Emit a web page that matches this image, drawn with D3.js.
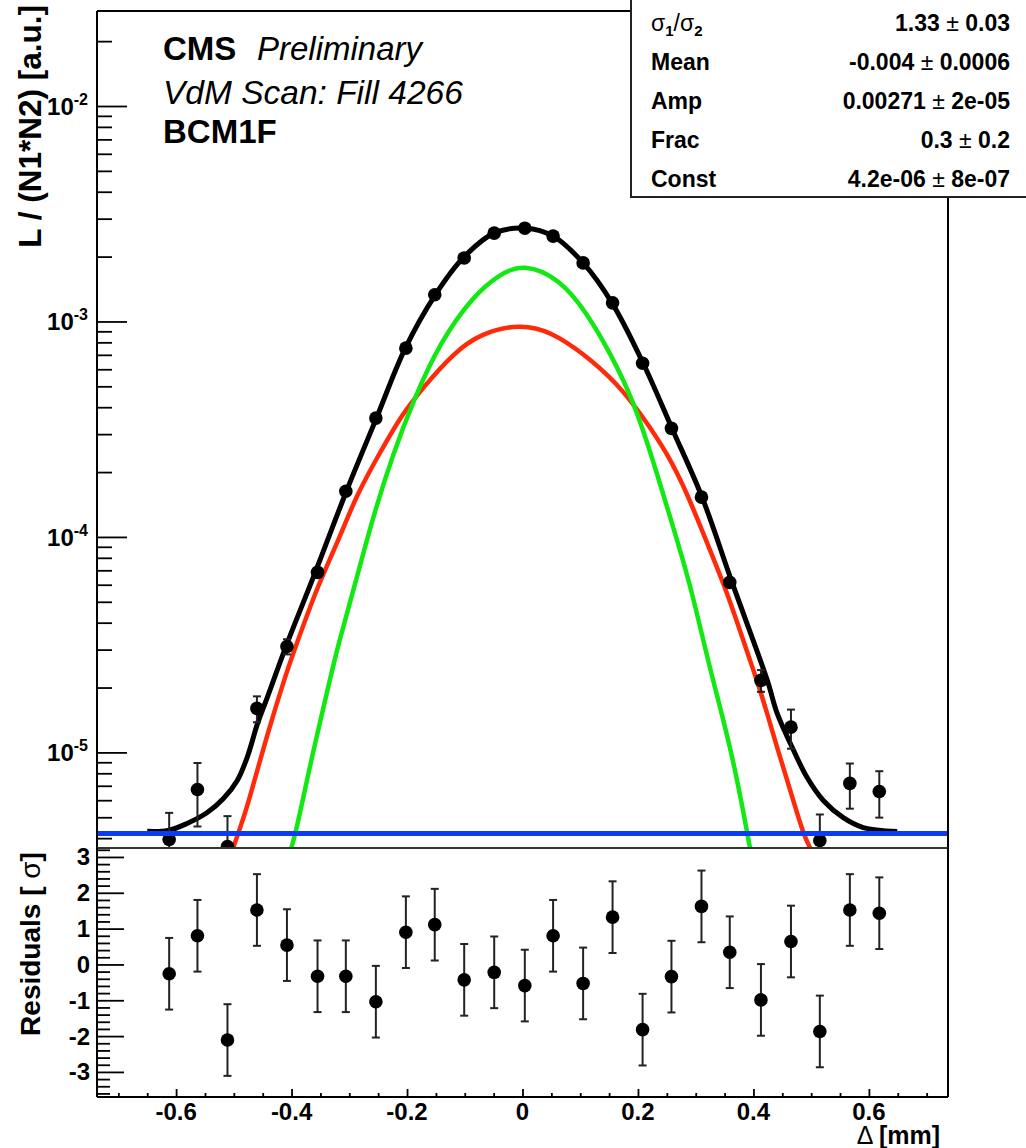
<!DOCTYPE html>
<html>
<head>
<meta charset="utf-8">
<script src="https://cdn.jsdelivr.net/npm/d3@7"></script>
<style>
  html, body { margin: 0; padding: 0; background: #fff; }
  svg { display: block; }
  text { font-family: "Liberation Sans", Arial, Helvetica, sans-serif; }
</style>
</head>
<body>
<script>
// ---------------- data ----------------
const pointX = [-0.612,-0.563,-0.511,-0.460,-0.408,-0.355,-0.306,-0.254,-0.202,-0.152,-0.101,-0.049,0.004,0.053,0.105,0.156,0.208,0.258,0.310,0.359,0.413,0.465,0.515,0.567,0.618];
const pointY = [3.94e-6,6.73e-6,3.66e-6,1.60e-5,3.10e-5,6.85e-5,1.63e-4,3.56e-4,7.52e-4,1.33e-3,1.97e-3,2.57e-3,2.71e-3,2.49e-3,1.87e-3,1.22e-3,6.40e-4,3.19e-4,1.53e-4,6.15e-5,2.16e-5,1.31e-5,3.90e-6,7.18e-6,6.58e-6];
const pointErr = [1.3e-6,2.2e-6,1.4e-6,2.2e-6,2.5e-6,3e-6,4e-6,6e-6,8e-6,1.1e-5,1.3e-5,1.5e-5,1.5e-5,1.5e-5,1.3e-5,1.1e-5,8e-6,6e-6,4e-6,3e-6,2.5e-6,2.7e-6,1.25e-6,1.7e-6,1.6e-6];
const residual = [-0.26,0.80,-2.11,1.52,0.54,-0.33,-0.33,-1.04,0.90,1.11,-0.43,-0.22,-0.59,0.80,-0.53,1.32,-1.82,-0.34,1.62,0.34,-0.99,0.64,-1.87,1.52,1.43];
const residualErr = [1,1,1,1,1,1,1,1,1,1,1,1,1,1,1,1,1,1,1,1,1,1,1,1,1];

// total fit (black)
const totalX = [-0.650,-0.614,-0.581,-0.546,-0.518,-0.494,-0.477,-0.459,-0.442,-0.409,-0.359,-0.305,-0.253,-0.203,-0.151,-0.103,-0.049,0.005,0.053,0.105,0.155,0.209,0.259,0.311,0.363,0.424,0.441,0.464,0.493,0.521,0.555,0.590,0.649];
const totalY = [4.30e-6,4.34e-6,4.68e-6,5.26e-6,6.11e-6,7.41e-6,9.46e-6,1.36e-5,1.80e-5,3.14e-5,6.85e-5,1.63e-4,3.56e-4,7.52e-4,1.33e-3,1.97e-3,2.57e-3,2.71e-3,2.49e-3,1.87e-3,1.22e-3,6.40e-4,3.19e-4,1.53e-4,6.15e-5,2.16e-5,1.52e-5,1.10e-5,7.64e-6,5.98e-6,4.99e-6,4.48e-6,4.30e-6];
// narrow gaussian (green)
const narrowX = [-0.410,-0.394,-0.368,-0.333,-0.321,-0.286,-0.259,-0.224,-0.189,-0.143,-0.085,-0.039,0.001,0.065,0.112,0.152,0.192,0.226,0.261,0.290,0.316,0.330,0.365,0.394];
const narrowY = [3.0e-6,4.0e-6,8.8e-6,2.2e-5,3.04e-5,6.6e-5,1.24e-4,2.44e-4,4.30e-4,8.0e-4,1.32e-3,1.66e-3,1.86e-3,1.58e-3,1.09e-3,7.13e-4,4.31e-4,2.27e-4,1.11e-4,6.08e-5,3.07e-5,2.16e-5,9.46e-6,3.61e-6];
// wide gaussian (red)
const wideX = [-0.501,-0.489,-0.477,-0.442,-0.408,-0.394,-0.356,-0.321,-0.286,-0.246,-0.212,-0.172,-0.120,-0.073,-0.004,0.048,0.105,0.164,0.209,0.251,0.285,0.320,0.355,0.389,0.412,0.441,0.464,0.486,0.498];
const wideY = [3.61e-6,4.48e-6,5.55e-6,1.22e-5,2.39e-5,3.04e-5,5.83e-5,9.33e-5,1.60e-4,2.48e-4,3.60e-4,4.95e-4,7.10e-4,8.80e-4,9.75e-4,9.0e-4,7.13e-4,5.17e-4,3.60e-4,2.44e-4,1.60e-4,9.33e-5,5.5e-5,2.92e-5,1.95e-5,1.05e-5,6.65e-6,4.20e-6,3.61e-6];
// constant (blue)
const constX = [-0.737, 0.737];
const constY = [4.2e-6, 4.2e-6];

const yMajorTicks = [1e-5, 1e-4, 1e-3, 1e-2];
const yMajorExp = ["-5", "-4", "-3", "-2"];
const resMajorTicks = [-3, -2, -1, 0, 1, 2, 3];
const xMajorTicks = [-0.6, -0.4, -0.2, 0, 0.2, 0.4, 0.6];
const xTickLabels = ["-0.6", "-0.4", "-0.2", "0", "0.2", "0.4", "0.6"];

const statNames = ["σ1/σ2", "Mean", "Amp", "Frac", "Const"];
const statValues = ["1.33", "-0.004", "0.00271", "0.3", "4.2e-06"];
const statErrors = ["0.03", "0.0006", "2e-05", "0.2", "8e-07"];

// ---------------- layout ----------------
const W = 1026, H = 1148;
const L = 97, R = 948, T = 11, MB = 848, RB = 1097;

const svg = d3.select("body").append("svg").attr("width", W).attr("height", H);
svg.append("rect").attr("width", W).attr("height", H).attr("fill", "#fff");

const x = d3.scaleLinear().domain([-0.737, 0.737]).range([L, R]);
const y = d3.scaleLog().domain([3.6e-6, 2.76e-2]).range([MB, T]);
const yr = d3.scaleLinear().domain([-3.7, 3.25]).range([RB, MB]);

const defs = svg.append("defs");
defs.append("clipPath").attr("id", "clipMain").append("rect")
  .attr("x", L).attr("y", T).attr("width", R - L).attr("height", MB - T);
defs.append("clipPath").attr("id", "clipRes").append("rect")
  .attr("x", L).attr("y", MB).attr("width", R - L).attr("height", RB - MB);

// ---------------- main panel ----------------
const main = svg.append("g").attr("clip-path", "url(#clipMain)");
const lineTotal = d3.line().x(d => x(d[0])).y(d => y(d[1])).curve(d3.curveCatmullRom.alpha(0.5));
const lineComp = d3.line().x(d => x(d[0])).y(d => y(d[1])).curve(d3.curveBasis);
const zip = (a, b) => a.map((v, i) => [v, b[i]]);

main.append("path").datum(zip(wideX, wideY)).attr("d", lineComp)
  .attr("fill", "none").attr("stroke", "#ff2a0a").attr("stroke-width", 4.5).attr("stroke-linejoin", "round");
main.append("path").datum(zip(narrowX, narrowY)).attr("d", lineComp)
  .attr("fill", "none").attr("stroke", "#12e812").attr("stroke-width", 4.5).attr("stroke-linejoin", "round");
main.append("path").datum(zip(totalX, totalY)).attr("d", lineTotal)
  .attr("fill", "none").attr("stroke", "#000").attr("stroke-width", 5).attr("stroke-linejoin", "round");

const pts = main.append("g");
pointX.forEach((px, i) => {
  const cx = x(px);
  const y1 = y(pointY[i] + pointErr[i]);
  const y0 = y(Math.max(pointY[i] - pointErr[i], 1e-9));
  pts.append("line").attr("x1", cx).attr("x2", cx).attr("y1", y1).attr("y2", y0)
    .attr("stroke", "#222").attr("stroke-width", 2);
  pts.append("line").attr("x1", cx - 4).attr("x2", cx + 4).attr("y1", y1).attr("y2", y1)
    .attr("stroke", "#222").attr("stroke-width", 2);
  pts.append("line").attr("x1", cx - 4).attr("x2", cx + 4).attr("y1", y0).attr("y2", y0)
    .attr("stroke", "#222").attr("stroke-width", 2);
  pts.append("circle").attr("cx", cx).attr("cy", y(pointY[i])).attr("r", 6.8).attr("fill", "#000");
});

main.append("path").datum(zip(constX, constY)).attr("d", lineTotal)
  .attr("fill", "none").attr("stroke", "#0a3cf5").attr("stroke-width", 5);

// main y axis (ticks inward)
const minorY = [];
for (let e = -6; e <= -2; e++) for (let k = 2; k <= 9; k++) {
  const v = k * Math.pow(10, e);
  if (v >= 3.6e-6 && v <= 2.76e-2) minorY.push(v);
}
svg.append("g").attr("transform", `translate(${L},0)`)
  .call(d3.axisRight(y).tickValues(minorY).tickSize(15).tickFormat(""))
  .call(g => g.select(".domain").remove())
  .selectAll("line").attr("stroke", "#000").attr("stroke-width", 1.8);
svg.append("g").attr("transform", `translate(${L},0)`)
  .call(d3.axisRight(y).tickValues(yMajorTicks).tickSize(30).tickFormat(""))
  .call(g => g.select(".domain").remove())
  .selectAll("line").attr("stroke", "#000").attr("stroke-width", 1.8);

yMajorTicks.forEach((v, i) => {
  const t = svg.append("text").attr("x", 88).attr("y", y(v) + 9)
    .attr("text-anchor", "end").attr("font-weight", "bold").attr("font-size", 24);
  t.append("tspan").text("10");
  t.append("tspan").attr("dy", -10).attr("font-size", 16).text(yMajorExp[i]);
});

// frame of main panel
svg.append("line").attr("x1", L).attr("x2", L).attr("y1", T).attr("y2", MB).attr("stroke", "#000").attr("stroke-width", 2);
svg.append("line").attr("x1", L).attr("x2", R).attr("y1", T).attr("y2", T).attr("stroke", "#000").attr("stroke-width", 2);
svg.append("line").attr("x1", R).attr("x2", R).attr("y1", T).attr("y2", MB).attr("stroke", "#000").attr("stroke-width", 2);

// ---------------- residual panel ----------------
const res = svg.append("g").attr("clip-path", "url(#clipRes)");
pointX.forEach((px, i) => {
  const cx = x(px);
  const y1 = yr(residual[i] + residualErr[i]);
  const y0 = yr(residual[i] - residualErr[i]);
  res.append("line").attr("x1", cx).attr("x2", cx).attr("y1", y1).attr("y2", y0)
    .attr("stroke", "#222").attr("stroke-width", 2);
  res.append("line").attr("x1", cx - 4).attr("x2", cx + 4).attr("y1", y1).attr("y2", y1)
    .attr("stroke", "#222").attr("stroke-width", 2);
  res.append("line").attr("x1", cx - 4).attr("x2", cx + 4).attr("y1", y0).attr("y2", y0)
    .attr("stroke", "#222").attr("stroke-width", 2);
  res.append("circle").attr("cx", cx).attr("cy", yr(residual[i])).attr("r", 6.8).attr("fill", "#000");
});

const resMinor = d3.range(-36, 33, 2).map(v => v / 10).filter(v => Math.abs(v - Math.round(v)) > 1e-6);
svg.append("g").attr("transform", `translate(${L},0)`)
  .call(d3.axisRight(yr).tickValues(resMinor).tickSize(13).tickFormat(""))
  .call(g => g.select(".domain").remove())
  .selectAll("line").attr("stroke", "#000").attr("stroke-width", 1.8);
svg.append("g").attr("transform", `translate(${L},0)`)
  .call(d3.axisRight(yr).tickValues(resMajorTicks).tickSize(27).tickFormat(""))
  .call(g => g.select(".domain").remove())
  .selectAll("line").attr("stroke", "#000").attr("stroke-width", 1.8);
resMajorTicks.forEach(v => {
  svg.append("text").attr("x", 90).attr("y", yr(v) + 8.5).attr("text-anchor", "end")
    .attr("font-weight", "bold").attr("font-size", 24).text(String(v));
});

const xMinor = d3.range(-14, 15).map(v => v * 0.05).filter(v => Math.abs(v / 0.2 - Math.round(v / 0.2)) > 1e-6);
svg.append("g").attr("transform", `translate(0,${RB})`)
  .call(d3.axisTop(x).tickValues(xMinor).tickSize(4).tickFormat(""))
  .call(g => g.select(".domain").remove())
  .selectAll("line").attr("stroke", "#000").attr("stroke-width", 1.8);
svg.append("g").attr("transform", `translate(0,${RB})`)
  .call(d3.axisTop(x).tickValues(xMajorTicks).tickSize(8).tickFormat(""))
  .call(g => g.select(".domain").remove())
  .selectAll("line").attr("stroke", "#000").attr("stroke-width", 1.8);
xMajorTicks.forEach((v, i) => {
  svg.append("text").attr("x", x(v)).attr("y", 1120).attr("text-anchor", "middle")
    .attr("font-weight", "bold").attr("font-size", 24).text(xTickLabels[i]);
});

// residual frame
svg.append("line").attr("x1", L).attr("x2", R).attr("y1", MB).attr("y2", MB).attr("stroke", "#333").attr("stroke-width", 2);
svg.append("line").attr("x1", L).attr("x2", L).attr("y1", MB).attr("y2", RB).attr("stroke", "#000").attr("stroke-width", 2);
svg.append("line").attr("x1", R).attr("x2", R).attr("y1", MB).attr("y2", RB).attr("stroke", "#000").attr("stroke-width", 2);
svg.append("line").attr("x1", L).attr("x2", R).attr("y1", RB).attr("y2", RB).attr("stroke", "#000").attr("stroke-width", 2);

// ---------------- titles ----------------
const xt = svg.append("text").attr("x", 940).attr("y", 1144).attr("text-anchor", "end").attr("font-size", 25);
xt.append("tspan").text("Δ ");
xt.append("tspan").attr("font-weight", "bold").text("[mm]");

svg.append("text").attr("transform", "translate(41,5) rotate(-90)").attr("text-anchor", "end")
  .attr("font-weight", "bold").attr("font-size", 31.5).text("L / (N1*N2) [a.u.]");

const rt = svg.append("text").attr("transform", "translate(40,944) rotate(-90)").attr("text-anchor", "middle")
  .attr("font-size", 28);
rt.append("tspan").attr("font-weight", "bold").text("Residuals [ ");
rt.append("tspan").text("σ");
rt.append("tspan").attr("font-weight", "bold").text("]");

// CMS labels
svg.append("text").attr("x", 163).attr("y", 60).attr("font-weight", "bold").attr("font-size", 33).text("CMS");
svg.append("text").attr("x", 257).attr("y", 60).attr("font-style", "italic").attr("font-size", 33).text("Preliminary");
svg.append("text").attr("x", 163).attr("y", 104).attr("font-style", "italic").attr("font-size", 33.5).text("VdM Scan: Fill 4266");
svg.append("text").attr("x", 163).attr("y", 143).attr("font-weight", "bold").attr("font-size", 33).text("BCM1F");

// ---------------- stats box ----------------
svg.append("rect").attr("x", 631).attr("y", -3).attr("width", 420).attr("height", 200)
  .attr("fill", "#fff").attr("stroke", "#222").attr("stroke-width", 2);
const rowY = [31, 70, 109, 148, 187];
statNames.forEach((n, i) => {
  const t = svg.append("text").attr("x", 651).attr("y", rowY[i]).attr("font-size", 23);
  if (i === 0) {
    t.append("tspan").text("σ");
    t.append("tspan").attr("font-size", 15).attr("font-weight", "bold").attr("dy", 5).text("1");
    t.append("tspan").attr("dy", -5).text("/σ");
    t.append("tspan").attr("font-size", 15).attr("font-weight", "bold").attr("dy", 5).text("2");
  } else {
    t.attr("font-weight", "bold").text(n);
  }
  const v = svg.append("text").attr("x", 1010).attr("y", rowY[i]).attr("text-anchor", "end").attr("font-size", 23);
  v.append("tspan").attr("font-weight", "bold").text(statValues[i] + " ");
  v.append("tspan").text("± ");
  v.append("tspan").attr("font-weight", "bold").text(statErrors[i]);
});
</script>
</body>
</html>
